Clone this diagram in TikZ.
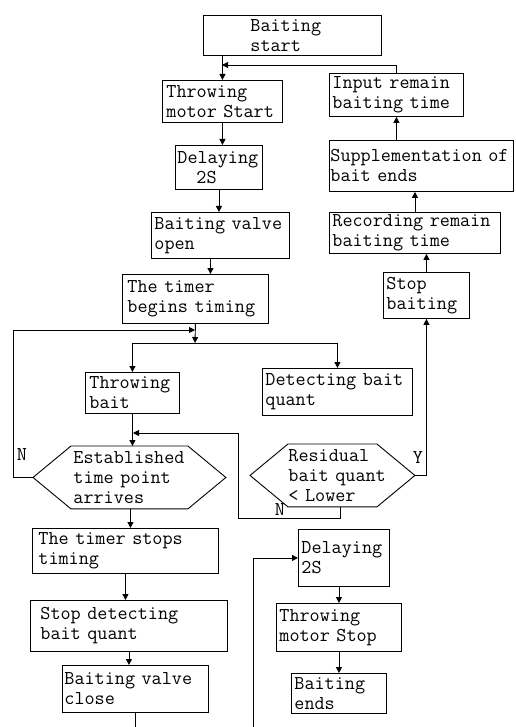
\documentclass[tikz,border=0pt]{standalone}
\usepackage{fontspec}
\usetikzlibrary{arrows.meta}

\newcommand{\chartfont}{\ttfamily\fontsize{19.6}{20}\selectfont}
\newcommand{\hexframe}[3]{%
\coordinate (#1L) at ([xshift=#2-38pt]#1.west);
\coordinate (#1R) at ([xshift=#3+38pt]#1.east);
\draw (#1L) -- ([xshift=#2]#1.north west) -- ([xshift=#3]#1.north east) -- (#1R)
  -- ([xshift=#3]#1.south east) -- ([xshift=#2]#1.south west) -- cycle;}

\begin{document}
\begin{tikzpicture}[
x=1pt, y=-1pt, line width=0.9pt,
box/.style={draw, anchor=north west, align=left, inner ysep=0pt, font=\chartfont},
hexa/.style={anchor=north west, align=left, inner sep=0pt, minimum height=62pt, font=\chartfont},
lbl/.style={inner sep=0pt, font=\chartfont},
arr/.style={-{Triangle[length=6pt,width=6pt]}} ]

\useasboundingbox (0,0) rectangle (515,727);

\node[box, text width=84pt, inner xsep=47pt, minimum height=40pt] (start) at (203,15) {Baiting\\start};

\node[box, text width=112pt, inner xsep=4pt, minimum height=42pt] (tms) at (162,80) {Throwing\\motor Start};

\node[box, text width=83pt, inner xsep=2pt, minimum height=44pt] (delay1) at (175,145) {Delaying\\\hspace*{19pt}2S};

\node[box, text width=132pt, inner xsep=3pt, minimum height=46pt] (valve) at (151,212) {Baiting valve\\open};

\node[box, text width=136pt, inner xsep=5pt, minimum height=49pt] (timer) at (122,274) {The timer\\begins timing};

\node[box, text width=86pt, inner xsep=4pt, minimum height=41pt] (bait) at (85,372) {Throwing\\bait};

\node[box, text width=144pt, inner xsep=3pt, minimum height=47pt] (detect) at (262,368) {Detecting bait\\quant};

\node[hexa, text width=114pt] (est) at (73,446) {Established\\time point\\arrives};

\node[hexa, text width=104pt] (resid) at (288,444) {Residual\\bait quant\\\textless{} Lower};

\node[box, text width=80pt, inner xsep=3pt, minimum height=46pt] (stop) at (383,272) {Stop\\baiting};

\node[box, text width=165pt, inner xsep=3pt, minimum height=41pt] (record) at (329,212) {Recording remain\\baiting time};

\node[box, text width=182pt, inner xsep=1pt, minimum height=51pt] (supp) at (329,140) {Supplementation of\\bait ends};

\node[box, text width=128pt, inner xsep=3pt, minimum height=43pt] (input) at (329,73) {Input remain\\baiting time};

\node[box, text width=174pt, inner xsep=6pt, minimum height=45pt] (tstop) at (32,528) {The timer stops\\timing};

\node[box, text width=177pt, inner xsep=10pt, minimum height=51pt] (sdet) at (30,600) {Stop detecting\\bait quant};

\node[box, text width=142pt, inner xsep=2pt, minimum height=47pt] (vclose) at (62,665) {Baiting valve\\close};

\node[box, text width=85pt, inner xsep=3pt, minimum height=57pt] (delay2) at (298,529) {Delaying\\2S};

\node[box, text width=119pt, inner xsep=3pt, minimum height=48pt] (mstop) at (276,603) {Throwing\\motor Stop};

\node[box, text width=89pt, inner xsep=3pt, minimum height=40pt] (bend) at (291,673) {Baiting\\ends};

\hexframe{est}{-2pt}{0pt}

\hexframe{resid}{0pt}{-16pt}

\node[lbl] (labN1) at (22,455) {N};

\node[lbl] (labN2) at (280,510) {N};

\node[lbl] (labY) at (418,458) {Y};

\coordinate (j1) at (222,65);
\coordinate (j2) at (195,343);
\coordinate (j3) at (195,330);
\coordinate (j4) at (133,433);
\coordinate (jn) at (238,518);
\coordinate (cutA) at (0,727);
\coordinate (cutB) at (253,727);

\draw[arr] (start.south -| tms.north) -- (tms.north);

\draw[arr] (input.north) |- (j1);

\draw[arr] (tms.south) -- (tms.south |- delay1.north);

\draw[arr] (delay1.south) -- (delay1.south |- valve.north);

\draw[arr] ([xshift=-10pt]valve.south) -- ([xshift=-10pt]valve.south |- timer.north);

\draw[arr] (timer.south) -- (j2);

\draw[arr] (j2) -| (bait.north);

\draw[arr] (j2) -| (detect.north);

\draw[arr] (estL) -- ++(-20,0) |- (j3);

\draw[arr] (bait.south) -- (bait.south |- est.north);

\draw[arr] (resid.south) |- (jn) |- (j4);

\draw[arr] (residR) -| (stop.south);

\draw[arr] (stop.north) -- (stop.north |- record.south);

\draw[arr] (record.north) -- (record.north |- supp.south);

\draw[arr] (input.south |- supp.north) -- (input.south);

\draw[arr] (est.south) -- (est.south |- tstop.north);

\draw[arr] (tstop.south) -- (tstop.south |- sdet.north);

\draw[arr] (sdet.south) -- (sdet.south |- vclose.north);

\draw (vclose.south) -- (vclose.south |- cutA);

\draw[arr] (cutB) |- (delay2.west);

\draw[arr] (delay2.south -| mstop.north) -- (mstop.north);

\draw[arr] (mstop.south) -- (bend.north);

\end{tikzpicture}
\end{document}
